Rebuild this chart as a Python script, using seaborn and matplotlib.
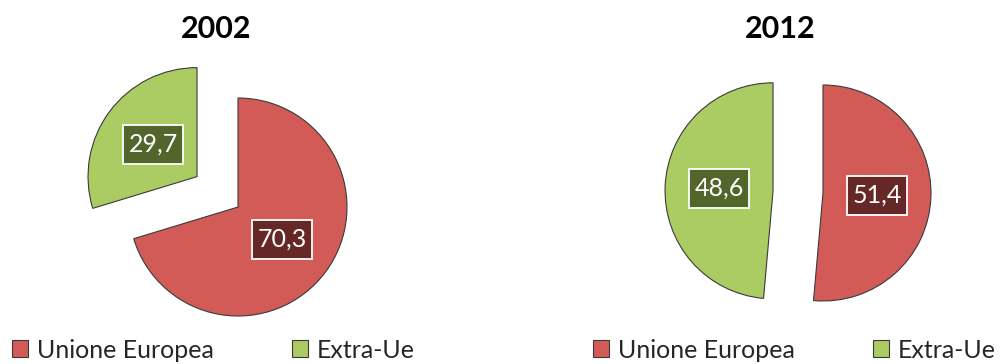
import matplotlib
matplotlib.use("Agg")
import matplotlib.pyplot as plt
from matplotlib.path import Path
import seaborn as sns

# Quota dell'export per area di destinazione
years = ["2002", "2012"]
categories = ["Unione Europea", "Extra-Ue"]
ue_share = [70.3, 51.4]
extra_share = [29.7, 48.6]

slice_colors = ["#D25B57", "#AACC63"]
box_colors = ["#662826", "#52652B"]

sns.set_theme(style="white")
plt.rcParams["font.family"] = ["Lato", "DejaVu Sans"]

W, H = 1007, 364
fig = plt.figure(figsize=(W / 100, H / 100), dpi=100)
fig.patch.set_facecolor("white")

# layout of each pie in pixels: centre of the first slice, radius, gap between slices
pie_layout = [
    dict(cx=238, cy=157, r=109, gap=51, title_x=216, leg_x=12),
    dict(cx=823, cy=171, r=108, gap=50, title_x=780, leg_x=593),
]
k = 1.7


def fmt(v):
    return f"{v:.1f}".replace(".", ",")


def label_box(x0, y0, width, height, mutation_size):
    """Rectangular box with more padding above/below than left/right."""
    px = 0.22 * mutation_size
    py = 0.32 * mutation_size
    x0, y0 = x0 - px, y0 - py
    x1, y1 = x0 + width + 2 * px, y0 + height + 2 * py
    return Path([(x0, y0), (x1, y0), (x1, y1), (x0, y1), (x0, y0)],
                closed=True)


for i, year in enumerate(years):
    lay = pie_layout[i]
    half = k * lay["r"]
    ax = fig.add_axes([(lay["cx"] - half) / W, (lay["cy"] - half) / H,
                       2 * half / W, 2 * half / H])
    values = [ue_share[i], extra_share[i]]
    wedges, _, autotexts = ax.pie(
        values,
        colors=slice_colors,
        startangle=90,
        counterclock=False,
        explode=[0, lay["gap"] / lay["r"]],
        radius=1,
        autopct=lambda p: fmt(p),
        pctdistance=0.5,
        wedgeprops=dict(edgecolor="#3a3a3a", linewidth=0.8),
        textprops=dict(color="white", fontsize=18),
    )
    for t, bc in zip(autotexts, box_colors):
        t.set_bbox(dict(boxstyle=label_box, facecolor=bc,
                        edgecolor="white", linewidth=1.3))
    ax.set_xlim(-k, k)
    ax.set_ylim(-k, k)
    ax.set_aspect("equal")
    ax.axis("off")

    fig.text(lay["title_x"] / W, 326 / H, year, ha="center", va="baseline",
             fontsize=22, fontweight="bold", color="black")

    fig.legend(wedges, categories, ncol=2, loc="center left",
               bbox_to_anchor=(lay["leg_x"] / W, 14 / H),
               frameon=False, fontsize=18, borderpad=0, borderaxespad=0,
               handlelength=0.64, handleheight=0.64, handletextpad=0.37,
               columnspacing=3.1)

fig.savefig("out.png", dpi=100, facecolor="white")
